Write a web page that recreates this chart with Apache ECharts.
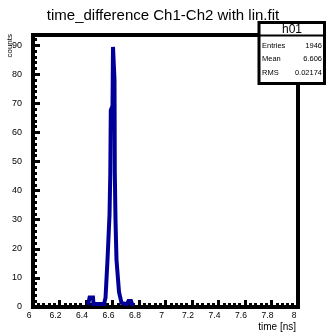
<!DOCTYPE html>
<html>
<head>
<meta charset="utf-8">
<script src="https://cdn.jsdelivr.net/npm/echarts@6/dist/echarts.min.js"></script>
<style>html,body{margin:0;padding:0;background:#fff}#c{width:326px;height:334px}</style>
</head>
<body>
<div id="c"></div>
<script>
// ---- data ----
const timeNs = [6.4151, 6.4242, 6.4272, 6.4528, 6.4566, 6.5358, 6.5472, 6.5623, 6.5774, 6.5834, 6.5872, 6.6000, 6.6038, 6.6113, 6.6151, 6.6174, 6.6226, 6.6302, 6.6491, 6.6679, 6.7094, 6.7208, 6.7396, 6.7472, 6.7623];
const counts = [0.7, 1.0, 3.3, 3.3, 1.0, 1.0, 3.1, 16.2, 31.6, 46.1, 67.7, 69.1, 89.4, 89.4, 78.0, 46.1, 29.9, 16.2, 5.2, 1.4, 1.0, 2.1, 2.1, 1.0, 0.7];
const xTicks = { min: 6, max: 8, interval: 0.2 };
const yTicks = { min: 0, max: 93.5, interval: 10 };
const statsName = 'h01';
const statsLabels = ['Entries', 'Mean', 'RMS'];
const statsValues = ['1946', '6.606', '0.02174'];
const titleText = 'time_difference Ch1-Ch2 with lin.fit';
const xTitle = 'time [ns]';
const yTitle = 'counts';

const FONT = 'Liberation Sans, Arial, sans-serif';
const chart = echarts.init(document.getElementById('c'), null, { renderer: 'canvas' });

const graphics = [];
// stats box
graphics.push({ type: 'rect', z: 100, shape: { x: 259, y: 22.5, width: 65.5, height: 61 }, style: { fill: '#fff', stroke: '#000', lineWidth: 3 } });
graphics.push({ type: 'line', z: 101, shape: { x1: 259, y1: 35.5, x2: 324.5, y2: 35.5 }, style: { stroke: '#000', lineWidth: 2 } });
graphics.push({ type: 'text', z: 102, x: 292, y: 29.5, style: { text: statsName, font: '12px ' + FONT, fill: '#000', align: 'center', verticalAlign: 'middle' } });
const rowY = [46, 59.3, 72.5];
statsLabels.forEach((l, i) => {
  graphics.push({ type: 'text', z: 102, x: 262, y: rowY[i], style: { text: l, font: '7.5px ' + FONT, fill: '#000', align: 'left', verticalAlign: 'middle' } });
  graphics.push({ type: 'text', z: 102, x: 322, y: rowY[i], style: { text: statsValues[i], font: '7.5px ' + FONT, fill: '#000', align: 'right', verticalAlign: 'middle' } });
});
// axis titles
graphics.push({ type: 'text', z: 50, x: 296, y: 327, style: { text: xTitle, font: '10px ' + FONT, fill: '#000', align: 'right', verticalAlign: 'middle' } });
graphics.push({ type: 'text', z: 50, x: 9.5, y: 34, rotation: Math.PI / 2, style: { text: yTitle, font: '8px ' + FONT, fill: '#000', align: 'right', verticalAlign: 'middle' } });

const tickStyle = { color: '#000', width: 3 };
chart.setOption({
  animation: false,
  backgroundColor: '#fff',
  title: {
    text: titleText, left: 'center', top: 3,
    textStyle: { fontFamily: FONT, fontSize: 15, fontWeight: 'normal', color: '#000' }
  },
  grid: { left: 33, right: 28, top: 35, bottom: 27, show: true, borderColor: '#000', borderWidth: 4, backgroundColor: 'transparent' },
  xAxis: {
    type: 'value', min: xTicks.min, max: xTicks.max, interval: xTicks.interval,
    axisLine: { show: false },
    splitLine: { show: false },
    axisTick: { show: true, inside: true, length: 7, lineStyle: tickStyle },
    minorTick: { show: true, splitNumber: 5, length: 4, lineStyle: tickStyle },
    axisLabel: { color: '#000', fontFamily: FONT, fontSize: 8.5, margin: 4, padding: [0, 8, 0, 0] }
  },
  yAxis: {
    type: 'value', min: yTicks.min, max: yTicks.max, interval: yTicks.interval,
    axisLine: { show: false },
    splitLine: { show: false },
    axisTick: { show: true, inside: true, length: 7, lineStyle: tickStyle },
    minorTick: { show: true, splitNumber: 5, length: 4, lineStyle: tickStyle },
    axisLabel: { color: '#000', fontFamily: FONT, fontSize: 9, margin: 11, showMaxLabel: false,
      formatter: v => (Math.abs(v % 10) < 1e-6 ? String(v) : '') }
  },
  series: [{
    type: 'line',
    data: timeNs.map((t, i) => [t, counts[i]]),
    showSymbol: false,
    lineStyle: { color: '#000099', width: 4, join: 'miter', cap: 'butt', miterLimit: 4 },
    z: 2
  }],
  graphic: graphics
});
</script>
</body>
</html>
